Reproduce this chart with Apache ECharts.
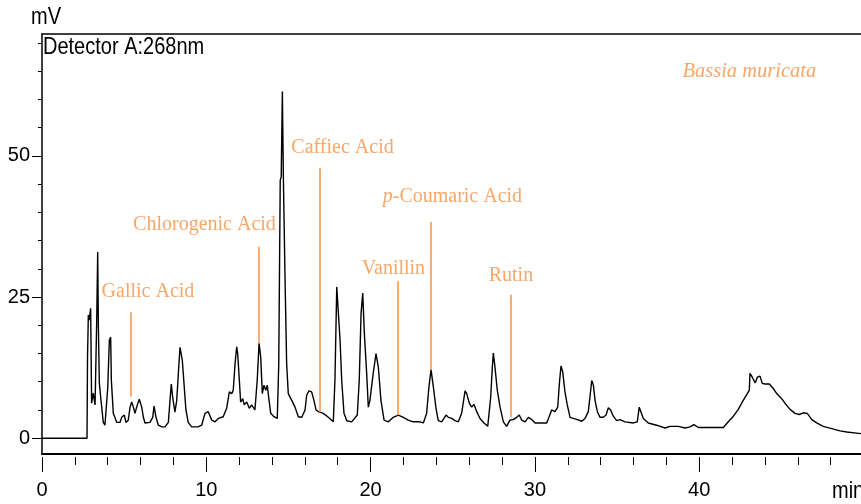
<!DOCTYPE html>
<html>
<head>
<meta charset="utf-8">
<script src="https://cdn.jsdelivr.net/npm/echarts@6/dist/echarts.min.js"></script>
<style>html,body{margin:0;padding:0;background:#fff}#c{width:861px;height:504px}</style>
</head>
<body>
<div id="c"></div>
<script>
// Retention time (min)
const time = [0,2.74,2.77,2.82,2.87,2.96,3.02,3.12,3.23,3.33,3.39,3.43,3.49,3.57,3.73,3.83,4.00,4.10,4.18,4.22,4.34,4.55,4.75,4.85,5.01,5.11,5.25,5.36,5.46,5.56,5.66,5.76,5.92,6.07,6.17,6.27,6.57,6.74,6.82,6.94,7.08,7.29,7.49,7.69,7.79,7.87,7.95,8.09,8.20,8.30,8.40,8.46,8.54,8.64,8.76,8.90,9.11,9.49,9.72,9.92,10.12,10.33,10.53,10.73,11.03,11.24,11.40,11.55,11.64,11.75,11.85,11.91,12.01,12.09,12.22,12.31,12.46,12.62,12.76,12.96,13.10,13.21,13.31,13.41,13.51,13.62,13.71,13.82,13.92,14.12,14.32,14.41,14.50,14.56,14.63,14.69,14.79,14.89,14.99,15.20,15.40,15.60,15.81,16.01,16.11,16.25,16.41,16.55,16.68,16.82,17.12,17.43,17.73,17.83,17.94,18.03,18.14,18.24,18.38,18.55,18.85,19.19,19.31,19.42,19.52,19.62,19.76,19.86,19.96,20.16,20.33,20.47,20.63,20.82,21.08,21.38,21.69,21.99,22.29,22.60,23.01,23.21,23.41,23.55,23.68,23.82,23.98,24.12,24.33,24.59,24.73,24.94,25.14,25.34,25.54,25.64,25.75,25.85,26.01,26.15,26.29,26.46,26.66,26.90,27.13,27.31,27.41,27.47,27.57,27.71,27.88,28.08,28.28,28.48,28.69,28.89,29.05,29.20,29.40,29.60,29.81,30.01,30.31,30.72,30.88,31.02,31.22,31.39,31.49,31.59,31.69,31.83,31.97,32.14,32.34,32.58,32.85,33.05,33.25,33.35,33.46,33.56,33.66,33.80,33.96,34.16,34.33,34.47,34.61,34.77,34.98,35.18,35.48,35.99,36.23,36.35,36.44,36.60,36.90,37.41,37.92,38.22,38.73,39.14,39.44,39.68,39.95,40.66,41.47,41.77,42.08,42.38,42.68,42.93,43.05,43.09,43.23,43.41,43.54,43.70,43.84,44.00,44.27,44.51,44.72,45.02,45.22,45.53,45.83,46.09,46.34,46.58,46.85,47.15,47.55,48.06,48.57,48.98,49.59,49.85];
// Detector signal (mV)
const signal = [0,0,14.2,21.8,20.9,23.0,6.2,8.0,5.9,20.9,33.0,20.0,9.8,7.3,2.8,2.3,8.9,17.4,17.9,10.3,4.4,2.8,2.8,3.7,4.1,2.8,3.2,5.5,6.4,5.5,4.4,5.5,6.9,5.5,3.7,2.7,2.8,3.7,5.7,3.7,2.3,2.0,2.0,2.8,6.7,9.6,7.3,4.6,6.7,11.5,16.1,16.1,13.8,9.8,5.0,2.8,2.0,2.0,2.3,4.4,4.7,3.2,2.9,3.5,3.8,5.3,8.2,7.9,8.5,13.2,16.2,15.0,10.3,6.4,7.0,5.9,6.4,5.3,5.9,5.0,10.3,16.8,14.4,7.9,9.4,8.5,9.4,6.7,4.4,3.8,3.5,13.2,45.7,46.3,61.4,46.3,28.6,13.2,7.9,6.7,5.5,3.8,3.7,5.0,7.6,8.4,8.2,6.7,5.0,4.7,4.4,3.7,2.9,10.3,26.8,27.1,17.4,10.3,4.4,3.1,2.9,4.1,10.3,22.1,25.7,18.6,11.5,5.5,6.7,11.5,15.0,12.6,6.7,3.2,2.9,3.7,4.1,3.7,3.2,2.9,2.9,2.7,4.4,9.1,12.1,9.1,5.3,3.1,2.9,4.1,3.7,3.5,3.1,2.9,4.4,4.4,8.4,7.9,6.2,5.5,6.0,4.7,3.5,2.7,2.1,7.3,12.6,15.1,12.6,8.5,5.5,2.9,2.1,3.2,3.3,3.7,4.1,3.2,2.9,3.7,3.3,2.7,2.7,2.7,3.9,5.0,4.7,5.5,9.7,12.8,11.8,8.2,5.9,3.7,3.5,3.3,3.0,3.5,4.7,7.3,10.2,9.4,6.7,4.7,3.7,3.7,4.1,5.4,5.0,3.9,3.1,3.3,2.9,2.7,2.9,5.5,5.3,3.5,2.7,2.3,1.8,2.1,2.1,1.8,2.0,2.4,1.9,1.9,1.9,2.9,3.9,5.1,6.7,7.9,8.5,11.5,10.8,9.8,10.8,11.0,9.7,9.6,9.6,8.8,7.9,7.0,6.2,5.1,4.4,4.2,4.5,4.4,3.3,2.7,2.1,1.7,1.3,1.1,0.9,0.8];

// Y tick labels and tick positions
const yLabelTicks = [0, 25, 50];
const yMinorTicks = [0,5,10,15,20,25,30,35,40,45,50,55,60,65,70];

// Peak annotations
const peakNames   = ['Gallic Acid','Chlorogenic Acid','Caffiec Acid','Vanillin','{i|p}-Coumaric Acid','Rutin'];
const peakTime    = [5.42, 13.21, 16.90, 21.65, 23.68, 28.53];
const lineTop     = [22.3, 33.9, 47.9, 27.8, 38.3, 25.4];
const lineBottom  = [7.4, 16.8, 4.6, 4.1, 12.1, 3.7];
const labelTime   = [6.45, 9.89, 18.29, 21.39, 24.98, 28.54];
const labelLevel  = [25.9, 37.8, 51.4, 30.1, 42.7, 28.7];

const sampleName = 'Bassia muricata';
const sampleTime = 43.05, sampleLevel = 64.9;

const ORANGE = '#F79040';
const SANS = '"Liberation Sans",Arial,sans-serif';
const SERIF = '"Liberation Serif","Times New Roman",serif';

const xMin = 0, xMax = 50, yMin = -2.8, yMax = 71.6;

const chart = echarts.init(document.getElementById('c'), null, {renderer: 'canvas'});

const labelData = peakNames.map((n, i) => ({value: [labelTime[i], labelLevel[i]], name: n}));
labelData.push({value: [sampleTime, sampleLevel], name: sampleName, italic: true});

chart.setOption({
  animation: false,
  backgroundColor: '#fff',
  grid: {left: 42, right: -2.5, top: 34, bottom: 50, containLabel: false, outerBoundsMode: 'none'},
  xAxis: [
    {type: 'value', min: xMin, max: xMax, position: 'bottom',
     axisLine: {show: true, onZero: false, lineStyle: {color: '#000', width: 2}},
     axisTick: {show: false}, axisLabel: {show: false}, splitLine: {show: false}},
    {type: 'value', min: xMin, max: xMax, interval: 10, position: 'bottom', offset: 3,
     axisLine: {show: false, onZero: false},
     axisTick: {show: true, length: 15, lineStyle: {color: '#000', width: 1}},
     minorTick: {show: true, splitNumber: 5, length: 8, lineStyle: {color: '#000', width: 1}},
     axisLabel: {show: true, margin: 23, color: '#000', fontSize: 20, fontFamily: SANS, showMaxLabel: false},
     splitLine: {show: false}, minorSplitLine: {show: false}},
    {type: 'value', min: xMin, max: xMax, position: 'top',
     axisLine: {show: true, onZero: false, lineStyle: {color: '#000', width: 1.5}},
     axisTick: {show: false}, axisLabel: {show: false}, splitLine: {show: false}}
  ],
  yAxis: [
    {type: 'value', min: yMin, max: yMax, position: 'left',
     axisLine: {show: true, onZero: false, lineStyle: {color: '#000', width: 1.5}},
     axisTick: {show: true, length: 10, customValues: yLabelTicks, lineStyle: {color: '#000', width: 1}},
     axisLabel: {show: true, margin: 12, customValues: yLabelTicks, color: '#000', fontSize: 20, fontFamily: SANS},
     splitLine: {show: false}},
    {type: 'value', min: yMin, max: yMax, position: 'left',
     axisLine: {show: false, onZero: false},
     axisTick: {show: true, length: 4, customValues: yMinorTicks, lineStyle: {color: '#000', width: 1}},
     axisLabel: {show: false}, splitLine: {show: false}}
  ],
  series: [
    {type: 'line', xAxisIndex: 0, yAxisIndex: 0,
     data: time.map((t, i) => [t, signal[i]]),
     showSymbol: false, symbol: 'none', smooth: false,
     lineStyle: {color: '#000', width: 1.4},
     markLine: {silent: true, symbol: ['none', 'none'], label: {show: false},
       lineStyle: {color: ORANGE, width: 1.5, type: 'solid'},
       data: peakTime.map((t, i) => [{coord: [t, lineTop[i]]}, {coord: [t, lineBottom[i]]}])}
    },
    {type: 'scatter', xAxisIndex: 0, yAxisIndex: 0, symbolSize: 0, silent: true,
     data: labelData.map(d => ({value: d.value,
       label: {show: true, position: 'inside', formatter: d.name, color: ORANGE,
         fontFamily: SERIF, fontSize: d.italic ? 20.5 : 20, fontStyle: d.italic ? 'italic' : 'normal',
         rich: {i: {fontStyle: 'italic', fontFamily: SERIF, fontSize: 20, color: ORANGE}}}}))
    }
  ],
  graphic: [
    {type: 'text', x: 46, y: 17, scaleY: 1.2, style: {text: 'mV', fill: '#000', font: '20px ' + SANS, textAlign: 'center', textVerticalAlign: 'middle'}},
    {type: 'text', x: 43, y: 47, scaleY: 1.2, style: {text: 'Detector A:268nm', fill: '#000', font: '20px ' + SANS, textAlign: 'left', textVerticalAlign: 'middle'}},
    {type: 'text', x: 832, y: 491, scaleY: 1.2, style: {text: 'min', fill: '#000', font: '20px ' + SANS, textAlign: 'left', textVerticalAlign: 'middle'}}
  ]
});
</script>
</body>
</html>
